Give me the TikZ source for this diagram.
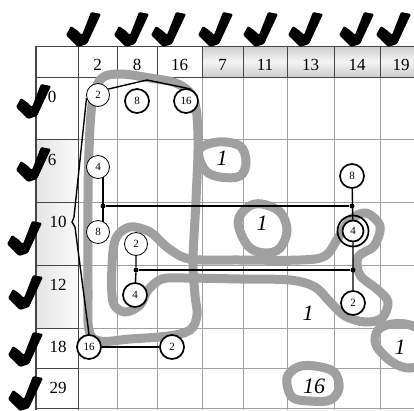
\documentclass[tikz,border=0pt]{standalone}
\usepackage{fontspec}
\setmainfont{Liberation Serif}
\usetikzlibrary{backgrounds}
\pgfdeclarelayer{strokes}
\pgfdeclarelayer{lines}
\pgfsetlayers{background,strokes,lines,main}
\definecolor{strokegray}{RGB}{160,160,160}
\definecolor{gridgray}{RGB}{160,160,160}
\definecolor{darkline}{RGB}{70,70,70}
\tikzset{
  cthin/.style={circle,draw,fill=white,line width=0.8pt,minimum size=23pt,inner sep=0pt,font=\fontsize{11}{12}\selectfont},
  cthick/.style={cthin,line width=1.7pt,minimum size=24pt},
  jdot/.style={circle,fill,inner sep=0pt,minimum size=5pt},
  hdr/.style={font=\fontsize{17}{20}\selectfont},
  bigital/.style={font=\fontsize{22}{24}\selectfont\itshape},
  blk/.style={line width=1.4pt},
  gstroke/.style={draw=strokegray,line width=9pt,line cap=round,line join=round},
  bodygrid/.style={draw=gridgray,line width=0.6pt},
  tabline/.style={draw=darkline,line width=1pt},
}
\newcommand\ckm[2]{\fill[shift={(#1,#2)},rounded corners=1.2pt] (-2,2) -- (-14,-10) -- (-9,-19) -- (-2,-14) -- (2,-10) -- (11,-33) -- (21,-31) -- (7,-1) -- cycle;}
\begin{document}
\begin{tikzpicture}[x=1pt,y=-1pt]
\useasboundingbox (0,0) rectangle (414,410);
% ---------- background: shading and grid ----------
\begin{pgfonlayer}{background}
\fill[white] (0,0) rectangle (414,410);
\begin{scope}
\clip (0,0) rectangle (414,410);
\foreach \a/\b in {202/243,243/287,287/334,334/380,380/424}{
  \shade[top color=gray!40,bottom color=gray!40,middle color=gray!8] (\a,46) rectangle (\b,77);
}
\shade[left color=gray!20,right color=gray!4] (36,139) rectangle (78,328);
\foreach \x in {117,157,202,243,287,334,380}{
  \path[bodygrid] (\x,77) -- (\x,410);
}
\foreach \y in {139,202,265,328,368,408}{
  \path[bodygrid] (78,\y) -- (414,\y);
}
\foreach \x in {117,157,202,243,287,334,380}{
  \path[tabline] (\x,46) -- (\x,77);
}
\foreach \y in {139,202,265,328,368,408}{
  \path[tabline] (36,\y) -- (78,\y);
}
\path[tabline] (36,46) -- (414,46);
\path[tabline] (36,77) -- (414,77);
\path[tabline,line width=1.3pt] (36,46) -- (36,410);
\path[tabline] (78,46) -- (78,410);
\end{scope}
\end{pgfonlayer}
% ---------- check marks ----------
\foreach \x in {80,128,165,212,257,302,353,390}{\ckm{\x}{45}}
\ckm{30}{117}
\ckm{30}{180}
\ckm{21}{254}
\ckm{22}{308}
\ckm{22}{365}
\ckm{22}{409}
% ---------- labels ----------
\node[hdr] (c2) at (97.5,65) {2};
\node[hdr] (c8) at (137,65) {8};
\node[hdr] (c16) at (179.5,65) {16};
\node[hdr] (c7) at (222.5,65) {7};
\node[hdr] (c11) at (265,65) {11};
\node[hdr] (c13) at (310.5,65) {13};
\node[hdr] (c14) at (357,65) {14};
\node[hdr] (c19) at (401,65) {19};
\node[hdr] (r0) at (52,97) {0};
\node[hdr] (r6) at (52,160) {6};
\node[hdr] (r10) at (58,222) {10};
\node[hdr] (r12) at (58,285) {12};
\node[hdr] (r18) at (58,347) {18};
\node[hdr] (r29) at (58,388) {29};
% ---------- circles ----------
\node[cthin] (a2) at (98,95) {2};
\node[cthick] (a8) at (137,101) {8};
\node[cthick] (a16) at (186,101) {16};
\node[cthin] (b4) at (98,167) {4};
\node[cthin] (b8) at (98,232) {8};
\node[cthin] (q2) at (136,244) {2};
\node[cthick] (q4) at (135,295) {4};
\node[cthick] (d16) at (89,347) {16};
\node[cthick] (d2) at (172,347) {2};
\node[cthick] (e8) at (352,176) {8};
\node[cthick,minimum size=21pt] (e4) at (353,231) {4};
\draw[line width=1.7pt] (e4.center) circle[radius=15.5pt];
\node[cthick] (e2) at (353,303) {2};
\node[jdot] (j1) at (103,206) {};
\node[jdot] (j2) at (352,206) {};
\node[jdot] (j3) at (136,270) {};
\node[jdot] (j4) at (353,270) {};
\coordinate (k1) at (74,217);
\coordinate (k2) at (72,222);
\coordinate (k3) at (75,227);
\coordinate (k4) at (147,80);
% ---------- italic numbers ----------
\node[bigital] (i1) at (222,158) {1};
\node[bigital] (i2) at (262,223) {1};
\node[bigital] (i3) at (308,313) {1};
\node[bigital] (i4) at (400,347) {1};
\node[bigital] (i5) at (314,386) {16};
% ---------- gray strokes ----------
\begin{pgfonlayer}{strokes}
\begin{scope}
\clip (0,0) rectangle (414,410);
\path[gstroke] plot[smooth cycle,tension=0.6] coordinates {(92,105) (100,80) (118,74) (150,78) (178,84) (194,100) (198,140) (196,200) (193,260) (195,295) (197,315) (190,330) (168,336) (130,339) (100,341) (89,330) (88,290) (88,200) (89,150)};
\path[gstroke] plot[smooth cycle,tension=0.6] coordinates {(199,150) (218,142) (240,146) (246,162) (240,176) (220,177) (205,170)};
\path[gstroke] plot[smooth cycle,tension=0.55] coordinates {(112,265) (116,238) (130,227) (150,232) (168,248) (190,259) (240,260) (300,260) (325,256) (338,238) (350,220) (366,213) (380,226) (374,246) (358,257) (360,275) (378,290) (388,302) (382,318) (365,322) (345,316) (330,302) (315,287) (290,280) (240,279) (185,278) (162,279) (148,290) (140,305) (125,312) (113,302)};
\path[gstroke] plot[smooth cycle,tension=0.6] coordinates {(238,222) (248,207) (262,204) (280,212) (287,230) (280,248) (265,253) (248,246)};
\path[gstroke] plot[smooth cycle,tension=0.6] coordinates {(378,330) (392,324) (410,325) (425,335) (425,360) (410,368) (392,362) (376,345)};
\path[gstroke] plot[smooth cycle,tension=0.6] coordinates {(287,378) (298,367) (315,366) (334,372) (339,388) (330,400) (310,401) (292,397)};
\end{scope}
\end{pgfonlayer}
% ---------- black connectors ----------
\begin{pgfonlayer}{lines}
\draw[blk] (a2.195) -- (k1) -- (k2) -- (k3) -- (d16.north);
\draw[blk] (a2.30) -- (k4) -- (a16.70);
\draw[blk] (j1 |- b4) -- (j1 |- b8);
\draw[blk] (j1) -- (j2);
\draw[blk] (e8) -- (e4) -- (e2);
\draw[blk] (q2) -- (j3) -- (q4);
\draw[blk] (j3) -- (j4);
\draw[blk] (d16) -- (d2);
\end{pgfonlayer}
\end{tikzpicture}
\end{document}
